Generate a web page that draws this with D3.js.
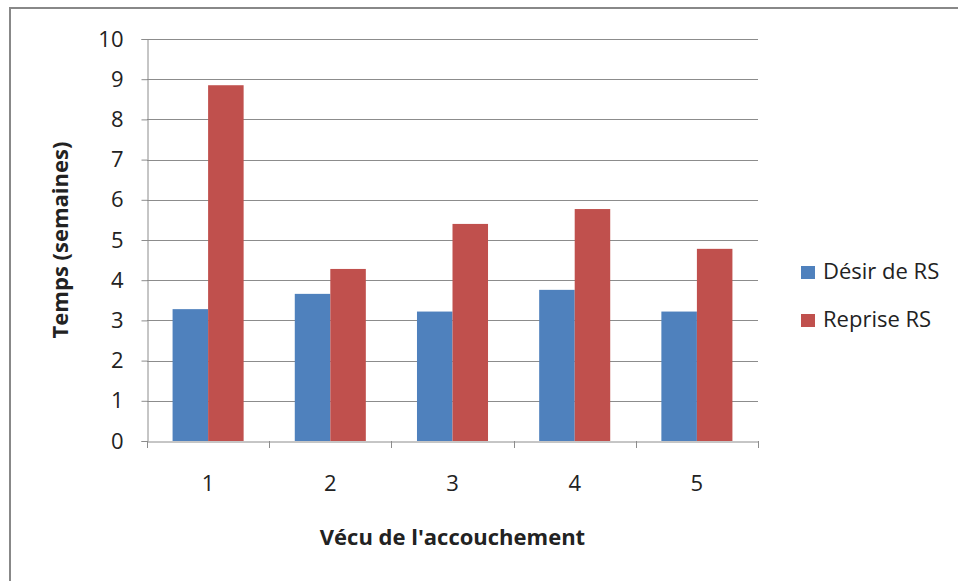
<!DOCTYPE html>
<html>
<head>
<meta charset="utf-8">
<script src="https://cdn.jsdelivr.net/npm/d3@7"></script>
<style>
  body { margin: 0; background: #fff; }
  text { font-family: "Open Sans", "Noto Sans", sans-serif; fill: #222; }
</style>
</head>
<body>
<svg id="chart" width="958" height="581"></svg>
<script>
let categories = ["1", "2", "3", "4", "5"];
let seriesNames = ["Désir de RS", "Reprise RS"];
let desirValues = [3.28, 3.66, 3.22, 3.76, 3.22];
let repriseValues = [8.85, 4.28, 5.40, 5.77, 4.78];
let yTicks = [0, 1, 2, 3, 4, 5, 6, 7, 8, 9, 10];
let colors = ["#4F81BD", "#C0504D"];

let plotLeft = 147;
let plotRight = 758;
let plotTop = 39;
let plotBottom = 441;

const svg = d3.select("#chart");

// outer frame
svg.append("rect")
  .attr("x", 10).attr("y", 8)
  .attr("width", 980).attr("height", 600)
  .style("fill", "none")
  .style("stroke", "#888")
  .style("stroke-width", 2);

const x = d3.scaleBand().domain(categories).range([plotLeft, plotRight]).paddingInner(0).paddingOuter(0);
const xInner = d3.scaleBand().domain(seriesNames).range([0, x.bandwidth()]).paddingInner(0).paddingOuter(0.72);
const y = d3.scaleLinear().domain([0, 10]).range([plotBottom, plotTop]);

// gridlines
svg.append("g")
  .selectAll("line")
  .data(yTicks.filter(d => d > 0))
  .enter()
  .append("line")
  .attr("x1", plotLeft).attr("x2", plotRight)
  .attr("y1", d => Math.round(y(d)) + 0.5)
  .attr("y2", d => Math.round(y(d)) + 0.5)
  .style("stroke", "#8c8c8c")
  .style("stroke-width", 1);

const table = categories.map((c, i) => ({ cat: c, values: [desirValues[i], repriseValues[i]] }));

svg.append("g")
  .selectAll("g")
  .data(table)
  .enter()
  .append("g")
  .attr("transform", d => "translate(" + x(d.cat) + ",0)")
  .selectAll("rect")
  .data(d => d.values.map((v, k) => ({ name: seriesNames[k], v: v, k: k })))
  .enter()
  .append("rect")
  .attr("x", d => xInner(d.name))
  .attr("width", xInner.bandwidth())
  .attr("y", d => y(d.v))
  .attr("height", d => y(0) - y(d.v))
  .style("fill", d => colors[d.k]);

// y axis
const yAxis = svg.append("g")
  .attr("transform", "translate(" + (plotLeft + 0.5) + ",0)")
  .call(d3.axisLeft(y).tickValues(yTicks).tickSize(6).tickPadding(18).tickFormat(d3.format("d")));
yAxis.select(".domain").attr("stroke", "#8c8c8c");
yAxis.selectAll(".tick line").attr("stroke", "#8c8c8c");
yAxis.selectAll(".tick text").style("font-size", "22px").style("fill", "#222");

// x axis
const xAxis = svg.append("g")
  .attr("transform", "translate(0," + (plotBottom + 0.5) + ")")
  .call(d3.axisBottom(x).tickSize(0).tickPadding(34));
xAxis.select(".domain").attr("stroke", "#8c8c8c");
xAxis.selectAll(".tick text").style("font-size", "22px").style("fill", "#222");

// category boundary ticks
svg.append("g")
  .selectAll("line")
  .data(categories.concat(["end"]))
  .enter()
  .append("line")
  .attr("x1", (d, i) => Math.round(i < categories.length ? x(d) : plotRight) + 0.5)
  .attr("x2", (d, i) => Math.round(i < categories.length ? x(d) : plotRight) + 0.5)
  .attr("y1", plotBottom)
  .attr("y2", plotBottom + 7)
  .style("stroke", "#8c8c8c");

// axis titles
svg.append("text")
  .attr("transform", "translate(68," + ((plotTop + plotBottom) / 2) + ") rotate(-90)")
  .attr("text-anchor", "middle")
  .style("font-size", "22px")
  .style("font-weight", "bold")
  .text("Temps (semaines)");

svg.append("text")
  .attr("x", (plotLeft + plotRight) / 2)
  .attr("y", 545)
  .attr("text-anchor", "middle")
  .style("font-size", "22px")
  .style("font-weight", "bold")
  .text("Vécu de l'accouchement");

// legend
const legend = svg.append("g")
  .selectAll("g")
  .data(seriesNames)
  .enter()
  .append("g")
  .attr("transform", (d, i) => "translate(801," + (266 + i * 48) + ")");

legend.append("rect")
  .attr("width", 14).attr("height", 13)
  .style("fill", (d, i) => colors[i]);

legend.append("text")
  .attr("x", 22).attr("y", 13)
  .style("font-size", "22px")
  .text(d => d);
</script>
</body>
</html>
